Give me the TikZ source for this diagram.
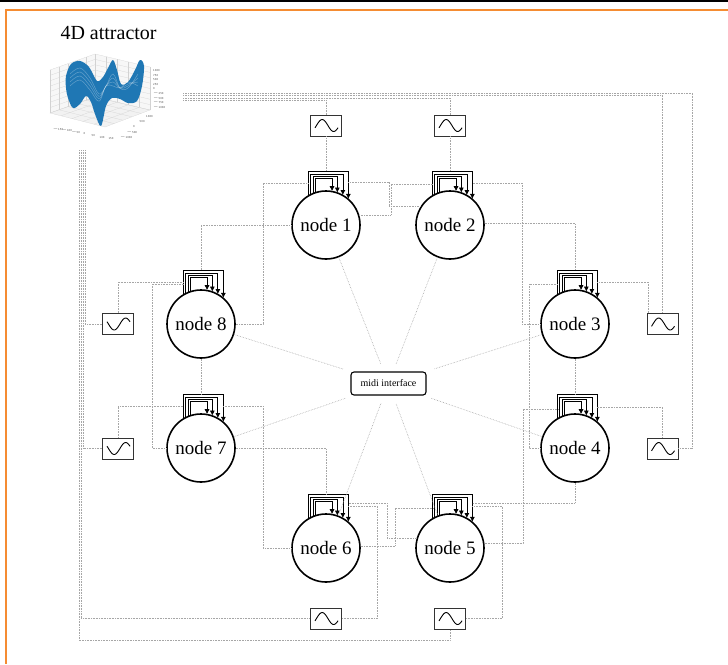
\documentclass[tikz,border=0pt]{standalone}
\usepackage{fontspec}
\setmainfont{Liberation Serif}
\newfontfamily\plotfont{DejaVu Sans}
\usetikzlibrary{calc,arrows.meta}
\definecolor{frameorange}{RGB}{245,140,50}
\definecolor{plotblue}{RGB}{31,119,180}

\tikzset{
  cell/.style={circle,draw,line width=1.6pt,fill=white,minimum size=68pt,
    inner sep=0pt,font=\fontsize{19}{19}\selectfont},
  osc/.style={rectangle,draw=black!80,line width=0.9pt,fill=white,
    minimum width=31pt,minimum height=21pt,inner sep=0pt},
  wire/.style={gray!70,line width=0.6pt,densely dotted},
  selfloop/.style={line width=0.75pt,-{Triangle[length=4.5pt,width=4.5pt]}},
  grid/.style={gray!35,line width=0.2pt},
  tick/.style={font=\plotfont\fontsize{2.6}{3}\selectfont,inner sep=0pt,text=black!70},
}

\begin{document}
\begin{tikzpicture}[x=1pt,y=-1pt]
  \useasboundingbox (0,0) rectangle (728,664);
  % frame
  \draw[line width=1.4pt] (0,1) -- (728,1);
  \draw[frameorange,line width=2.2pt] (728,9.8) -- (6,9.8) -- (6,664);
  \node[anchor=base west,font=\fontsize{20}{24}\selectfont] (title) at (57,39.5) {4D attractor};

  % small 3d plot of the attractor
  \node[minimum width=138pt,minimum height=95pt,inner sep=0pt] (attr) at (114,102.5) {};
  \coordinate (pa) at (50,113);
  \coordinate (pb) at (105,127);
  \coordinate (pc) at (150,110);
  \coordinate (pd) at (95,97);
  \fill[gray!6] (pa) -- (pd) -- (pc) -- ($(pc)+(0,-43)$) -- ($(pd)+(0,-43)$) -- ($(pa)+(0,-43)$) -- cycle;
  \fill[gray!10] (pa) -- (pb) -- (pc) -- (pd) -- cycle;
  \foreach \t in {0,0.125,...,1.01}
    \draw[grid] ($(pa)+(0,-43*\t)$) -- ($(pd)+(0,-43*\t)$) -- ($(pc)+(0,-43*\t)$);
  \foreach \t in {0,0.2,...,1.01}{
    \draw[grid] ($(pa)!\t!(pd)$) -- ++(0,-43);
    \draw[grid] ($(pd)!\t!(pc)$) -- ++(0,-43);
    \draw[grid] ($(pa)!\t!(pb)$) -- ($(pd)!\t!(pc)$);
    \draw[grid] ($(pa)!\t!(pd)$) -- ($(pb)!\t!(pc)$);
  }
  \fill[plotblue] plot[smooth cycle,tension=0.55] coordinates {
    (66,76) (71,64) (80,61) (89,67) (97,81) (103,77) (108,68) (113,60)
    (117,70) (121,84) (128,82) (135,70) (140,60) (144,66) (142,86) (137,101)
    (128,103) (120,99) (112,98) (106,106) (101,126) (95,114) (91,102)
    (86,96) (80,104) (73,108) (68,98) (66,88)};
  \foreach \d in {0,4,8,12}
    \draw[white,opacity=0.3,line width=0.5pt] plot[smooth,tension=0.6] coordinates {
      (70,74+\d) (80,68+\d) (90,78+\d) (99,94+\d*0.6) (106,86) (113,74+\d)
      (120,88) (128,88-\d*0.5) (138,74+\d)};
  \foreach \v [count=\k from 0] in {1000,750,500,250,0,$-$250,$-$500,$-$750,$-$1000}
    \node[tick,anchor=west] (zt\k) at (153,71+4.5*\k) {\v};
  \foreach \v [count=\k from 0] in {$-$150,$-$100,$-$50,0,50,100,150}
    \node[tick] (xt\k) at ($(58,129)!\k/6!(111,139)$) {\v};
  \foreach \v [count=\k from 0] in {$-$1000,$-$500,0,500,1000}
    \node[tick,anchor=west] (yt\k) at ($(120,137)!\k/4!(146,117)$) {\v};

  % oscillators
  \node[osc] (s1) at (326,125.5) {};
  \node[osc] (s2) at (450,125.5) {};
  \node[osc] (s3) at (662.5,324) {};
  \node[osc] (s4) at (662.5,448.5) {};
  \node[osc] (s5) at (450,618.5) {};
  \node[osc] (s6) at (326,618.5) {};
  \node[osc] (s7) at (118,448.5) {};
  \node[osc] (s8) at (118,324) {};
  \foreach \s/\sg in {s1/1,s2/1,s3/1,s4/1,s5/1,s6/1,s7/-1,s8/-1}
    \draw[line width=0.9pt,shift={(\s.center)}]
      plot[smooth,domain=-0.4:5.9,samples=25] ({-11+(\x+0.4)*23/6.3},{-\sg*6*sin(\x r)});

  % network nodes
  \node[cell] (n1) at (326,225) {node 1};
  \node[cell] (n2) at (450,225) {node 2};
  \node[cell] (n3) at (575,324) {node 3};
  \node[cell] (n4) at (575,448) {node 4};
  \node[cell] (n5) at (450,548) {node 5};
  \node[cell] (n6) at (326,548) {node 6};
  \node[cell] (n7) at (201,448) {node 7};
  \node[cell] (n8) at (201,324) {node 8};
  \node[draw,rounded corners=3pt,line width=1.1pt,minimum width=75pt,minimum height=23pt,
    inner sep=0pt,font=\fontsize{10}{12}\selectfont] (midi) at (388.5,383.5) {midi interface};

  % self connections
  \foreach \n in {1,...,8}
    \foreach \i/\l/\r in {0/107/80,1/111/71,2/116/61,3/120/50}
      \draw[selfloop] (n\n.\l) |- ($(n\n)+(0,-46.5-2.3*\i)$) -| (n\n.\r);

  % attractor to oscillators
  \draw[wire] ($(attr.north east)+(0,38)$) -| ($(s4.east)+(14,0)$) -- (s4.east);
  \draw[wire] ($(attr.north east)+(0,40.5)$) -| (s3.north);
  \draw[wire] ($(attr.north east)+(0,43)$) -| (s2.north);
  \draw[wire] ($(attr.north east)+(0,45.5)$) -| (s1.north);
  \draw[wire] ($(attr.south west)+(40,0)$) |- (s8.west);
  \draw[wire] ($(attr.south west)+(38,0)$) |- (s7.west);
  \draw[wire] ($(attr.south west)+(36,0)$) |- (s6.west);
  \draw[wire] ($(attr.south west)+(34,0)$) |- ($(s5.south)+(0,10.5)$) -- (s5.south);

  % oscillators to nodes
  \draw[wire] (s1.south) -- ($(n1)+(0,-53.5)$);
  \draw[wire] (s2.south) -- ($(n2)+(0,-53.5)$);
  \draw[wire] ($(s3.north)+(-14,0)$) |- ($(n3)+(22,-42)$);
  \draw[wire] (s4.north) |- ($(n4)+(22,-41)$);
  \draw[wire] (s5.east) -| ($(n5)+(52,-42)$) -- ($(n5)+(22,-42)$);
  \draw[wire] (s6.east) -| ($(n6)+(51,-42)$) -- ($(n6)+(22,-42)$);
  \draw[wire] (s7.north) |- ($(n7)+(-17,-42)$);
  \draw[wire] (s8.north) |- ($(n8)+(-17,-42)$);

  % ring
  \draw[wire] (n1.17) -| ($(n1)+(65,-41)$) -- ($(n2)+(-17,-41)$);
  \draw[wire] (n2.148) -| ($(n2)+(-61,-43)$) -- ($(n1)+(22,-43)$);
  \draw[wire] (n2.3) -| ($(n3)+(0,-53.5)$);
  \draw[wire] (n3.west) -| ($(n2)+(72,-42)$) -- ($(n2)+(22,-42)$);
  \draw[wire] (n3.south) -- ($(n4)+(0,-53.5)$);
  \draw[wire] (n4.west) -| ($(n3)+(-46,-40)$) -- ($(n3)+(-17,-40)$);
  \draw[wire] (n4.south) |- ($(n5)+(22,-45)$);
  \draw[wire] (n5.7) -| ($(n4)+(-52,-39)$) -- ($(n4)+(-17,-39)$);
  \draw[wire] (n5.163) -| ($(n6)+(61,-45)$) -- ($(n6)+(22,-45)$);
  \draw[wire] (n6.3) -| ($(n5)+(-55,-40)$) -- ($(n5)+(-17,-40)$);
  \draw[wire] (n6.west) -| ($(n7)+(62,-42)$) -- ($(n7)+(22,-42)$);
  \draw[wire] (n7.east) -| ($(n6)+(0,-53.5)$);
  \draw[wire] (n7.west) -| ($(n8)+(-49,-40)$) -- ($(n8)+(-17,-40)$);
  \draw[wire] (n8.south) -- ($(n7)+(0,-53.5)$);
  \draw[wire] (n8.east) -| ($(n1)+(-63,-42)$) -- ($(n1)+(-17,-42)$);
  \draw[wire] (n1.west) -| ($(n8)+(0,-53.5)$);

  % midi links
  \foreach \n in {1,...,8}
    \draw[wire,shorten >=8pt] (n\n) -- (midi);
\end{tikzpicture}
\end{document}
